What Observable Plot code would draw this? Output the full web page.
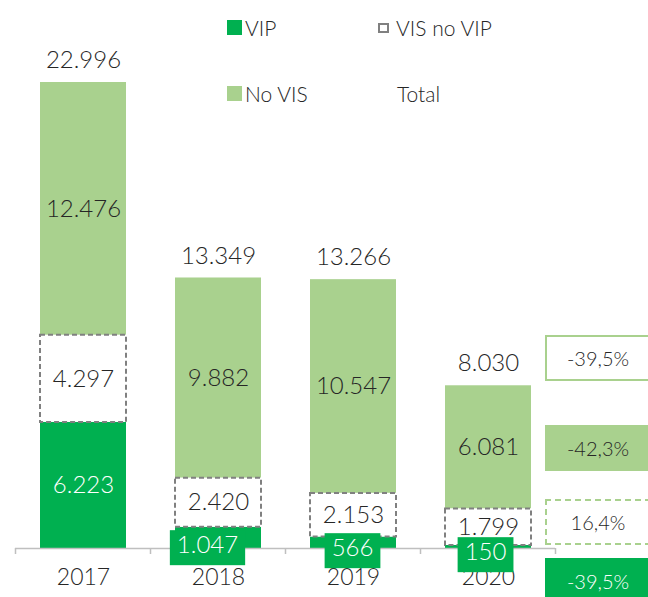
<!DOCTYPE html>
<html>
<head>
<meta charset="utf-8">
<script src="https://cdn.jsdelivr.net/npm/d3@7"></script>
<script src="https://cdn.jsdelivr.net/npm/@observablehq/plot@0.6"></script>
<style>
  body { margin: 0; background: #fff; font-family: Lato, "Noto Sans", sans-serif; color: #262626; }
  #wrap { position: relative; width: 648px; height: 597px; overflow: hidden; }
  #wrap svg { position: absolute; left: 0; top: 0; }
  .lg { position: absolute; font-size: 21px; font-weight: 300; line-height: 1; display: flex; align-items: center; white-space: nowrap; }
  .sw { display: inline-block; width: 15px; height: 15px; margin-right: 3px; box-sizing: border-box; }
  .pct { position: absolute; left: 545px; width: 106px; height: 46px; box-sizing: border-box; font-weight: 300;
         display: flex; align-items: center; justify-content: center; font-size: 20px; }
</style>
</head>
<body>
<div id="wrap"></div>
<script>
// ---- data ----
const years = ["2017", "2018", "2019", "2020"];
const vip = [6223, 1047, 566, 150];
const visNoVip = [4297, 2420, 2153, 1799];
const noVis = [12476, 9882, 10547, 6081];
const totals = [22996, 13349, 13266, 8030];
const seriesNames = ["VIP", "VIS no VIP", "No VIS", "Total"];
const changeSeries = ["Total", "No VIS", "VIS no VIP", "VIP"];
const changeLabels = ["-39,5%", "-42,3%", "16,4%", "-39,5%"];

// ---- styles ----
const C_VIP = "#00B050", C_NOVIS = "#A9D18E", C_DASH = "#808080", C_TEXT = "#262626";
const FW = 300;
const fmt = d3.formatLocale({decimal: ",", thousands: ".", grouping: [3], currency: ["", ""]}).format(",d");

const segs = [];
years.forEach((yr, i) => {
  let b = 0;
  [["VIP", vip[i]], ["VIS no VIP", visNoVip[i]], ["No VIS", noVis[i]]].forEach(([s, v]) => {
    segs.push({year: yr, series: s, value: v, y1: b, y2: b + v, mid: b + v / 2});
    b += v;
  });
});
const totalRows = years.map((yr, i) => ({year: yr, value: totals[i]}));
const bigVip = segs.filter(d => d.series === "VIP" && d.value > 3000);
const smallVip = segs.filter(d => d.series === "VIP" && d.value <= 3000);
// label offsets for the small VIP labels (px)
const smallOff = {"2018": [-11, -3], "2019": [-1, 0], "2020": [-3, 4]};

const W = 648, H = 597;
const chart = Plot.plot({
  width: W, height: H,
  marginLeft: 15, marginRight: 93, marginTop: 82, marginBottom: 49,
  style: {fontFamily: "Lato, 'Noto Sans', sans-serif", color: C_TEXT, background: "transparent"},
  x: {domain: years, paddingInner: 0.363, paddingOuter: 0.1815, label: null},
  y: {domain: [0, 22996], axis: null},
  marks: [
    Plot.barY(segs.filter(d => d.series === "No VIS"), {x: "year", y1: "y1", y2: "y2", fill: C_NOVIS}),
    Plot.barY(segs.filter(d => d.series === "VIP"), {x: "year", y1: "y1", y2: "y2", fill: C_VIP}),
    Plot.barY(segs.filter(d => d.series === "VIS no VIP"), {x: "year", y1: "y1", y2: "y2", fill: "white",
      stroke: C_DASH, strokeWidth: 2, strokeDasharray: "5,3"}),
    Plot.ruleY([0], {stroke: "#BFBFBF", strokeWidth: 1.5}),
    Plot.axisX({tickSize: 0, tickPadding: 20, fontSize: 23, fontWeight: FW, fill: C_TEXT}),
    Plot.text(segs.filter(d => d.series !== "VIP"), {x: "year", y: "mid", text: d => fmt(d.value),
      fontSize: 24, fontWeight: FW, fill: C_TEXT}),
    Plot.text(bigVip, {x: "year", y: "mid", text: d => fmt(d.value), fontSize: 24, fontWeight: FW, fill: "white"}),
    Plot.text(smallVip, {x: "year", y: 0, text: d => fmt(d.value), fontSize: 24, fontWeight: FW, fill: "white",
      ariaDescription: "vip-small"}),
    Plot.text(totalRows, {x: "year", y: "value", text: d => fmt(d.value), fontSize: 24, fontWeight: FW,
      fill: C_TEXT, dy: -22})
  ]
});
const wrap = document.getElementById("wrap");
wrap.appendChild(chart);

// boundary ticks on the axis, using the plot's x scale
const xs = chart.scale("x");
const yb = H - 49;
const svg = d3.select(chart);
const gap = xs.step - xs.bandwidth;
const bounds = years.map(y => xs.apply(y) - gap / 2);
bounds.push(xs.apply(years[years.length - 1]) + xs.bandwidth + gap / 2);
svg.append("g").selectAll("line").data(bounds).join("line")
  .attr("x1", d => d).attr("x2", d => d).attr("y1", yb).attr("y2", yb + 6)
  .attr("stroke", "#BFBFBF").attr("stroke-width", 1.5);

// small VIP labels: shift and put a green box behind
const smallTexts = new Set(smallVip.map(d => fmt(d.value)));
let texts = [];
const tagged = chart.querySelector('[aria-description="vip-small"]');
if (tagged) texts = Array.from(tagged.querySelectorAll("text"));
else texts = Array.from(chart.querySelectorAll("text")).filter(t => smallTexts.has(t.textContent) && t.getAttribute("fill") !== C_TEXT);
texts.forEach(node => {
  const d = smallVip.find(v => fmt(v.value) === node.textContent) || smallVip[0];
  const [ox, oy] = smallOff[d.year];
  const t = d3.select(node);
  const tr = (t.attr("transform") || "") + ` translate(${ox},${oy})`;
  t.attr("transform", tr);
  const bb = node.getBBox();
  d3.select(node.parentNode).insert("rect", () => node)
    .attr("x", bb.x - 7).attr("y", bb.y + 1).attr("width", bb.width + 14).attr("height", bb.height + 6)
    .attr("transform", tr)
    .attr("fill", C_VIP);
});

// legend
const lg = [
  {name: seriesNames[0], left: 227, top: 17, sw: `background:${C_VIP}`},
  {name: seriesNames[1], left: 378, top: 17, sw: `width:11px;height:10px;border:2px dashed ${C_DASH};margin-right:7px;background:#fff`},
  {name: seriesNames[2], left: 227, top: 83, sw: `background:${C_NOVIS}`},
  {name: seriesNames[3], left: 397, top: 83, sw: null}
];
lg.forEach(l => {
  const el = document.createElement("div");
  el.className = "lg";
  el.style.left = l.left + "px"; el.style.top = l.top + "px";
  el.innerHTML = (l.sw ? `<span class="sw" style="${l.sw}"></span>` : "") + `<span>${l.name}</span>`;
  wrap.appendChild(el);
});

// change boxes on the right
const boxStyle = {
  "Total": `top:335px;border:2px solid ${C_NOVIS};background:#fff;color:${C_TEXT}`,
  "No VIS": `top:425px;background:${C_NOVIS};color:${C_TEXT}`,
  "VIS no VIP": `top:499px;border:2px dashed ${C_NOVIS};background:#fff;color:${C_TEXT}`,
  "VIP": `top:558px;background:${C_VIP};color:#fff`
};
changeSeries.forEach((s, i) => {
  const el = document.createElement("div");
  el.className = "pct";
  el.setAttribute("style", boxStyle[s]);
  el.textContent = changeLabels[i];
  wrap.appendChild(el);
});
</script>
</body>
</html>
